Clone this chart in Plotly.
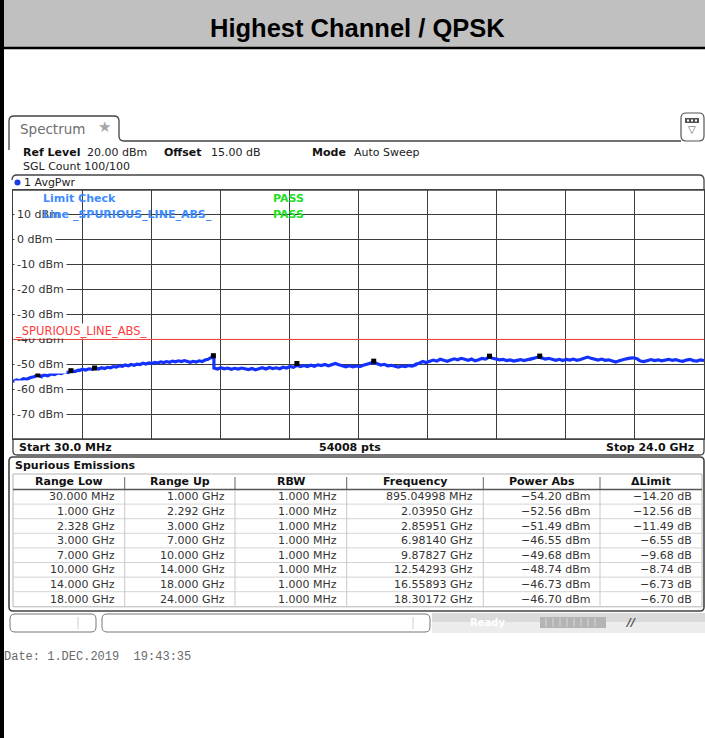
import numpy as np
import plotly.graph_objects as go

W, H = 705, 738

# ---------------- measurement data ----------------
range_low_ghz = [0.03, 1.0, 2.328, 3.0, 7.0, 10.0, 14.0, 18.0]
range_up_ghz = [1.0, 2.292, 3.0, 7.0, 10.0, 14.0, 18.0, 24.0]
rbw_mhz = [1.0, 1.0, 1.0, 1.0, 1.0, 1.0, 1.0, 1.0]
peak_freq_ghz = [0.89504998, 2.03950, 2.85951, 6.98140, 9.87827, 12.54293, 16.55893, 18.30172]
peak_power_dbm = [-54.20, -52.56, -51.49, -46.55, -49.68, -48.74, -46.73, -46.70]
limit_dbm = -40.0

ref_level_dbm = 20.0
offset_db = 15.0
start_ghz, stop_ghz = 0.03, 24.0
sweep_points = 54008
y_tick_values = [10, 0, -10, -20, -30, -40, -50, -60, -70]

# average-power trace, one list of levels per sweep range
levels_r1 = [-56.9, -56.3, -56.6, -55.8, -56.0, -55.3, -55.0, -54.4, -54.9]
levels_r2 = [-54.8, -54.3, -54.6, -53.9, -54.1, -53.5, -53.7, -53.1, -53.3, -52.6, -52.9, -52.4]
levels_r3 = [-52.5, -52.0, -52.3, -51.8, -52.0, -51.5, -51.8]
levels_r4 = [-51.9, -51.4, -51.7, -51.2, -51.4, -50.9, -51.1, -50.6, -50.8, -50.3,
             -50.6, -50.1, -50.4, -49.9, -50.1, -49.6, -49.9, -49.4, -49.7, -49.2,
             -49.5, -49.0, -49.3, -48.9, -49.2, -48.7, -49.0, -48.6, -48.9, -48.5,
             -48.9, -49.2, -48.8, -49.1, -48.6, -48.9, -48.3, -48.0, -47.3, -46.55]
levels_r5 = [-51.5, -51.9, -51.4, -51.8, -51.5, -52.0, -51.6, -51.9, -51.5, -51.8,
             -52.1, -51.7, -52.2, -51.8, -51.4, -51.9, -51.3, -51.7, -51.4, -51.8,
             -51.2, -51.5, -50.9, -51.2, -50.4, -50.9]
levels_r6 = [-50.9, -50.5, -50.9, -50.4, -50.8, -50.2, -50.5, -50.1, -50.6, -50.3,
             -49.7, -50.2, -50.7, -51.0, -50.6, -51.0, -50.7, -50.9, -50.4, -50.1,
             -49.6, -49.2, -49.8, -50.3, -50.0, -50.6, -50.4, -50.9, -51.1, -50.7,
             -50.9, -50.5, -50.7, -50.2]
levels_r7 = [-50.0, -49.6, -48.9, -49.3, -48.8, -48.3, -48.7, -48.0, -48.4, -48.8,
             -48.3, -47.8, -48.2, -47.6, -48.0, -48.4, -47.9, -48.6, -48.2, -47.6,
             -47.9, -47.1, -47.6, -47.9, -48.2, -48.0, -48.5, -48.2, -48.7, -48.4,
             -48.1, -48.5, -48.0, -47.8]
levels_r8 = [-47.9, -47.5, -47.1, -47.4, -47.9, -47.6, -48.1, -48.4, -48.0, -48.5,
             -48.0, -48.3, -47.9, -48.4, -48.1, -47.5, -47.1, -47.6, -48.1, -48.3,
             -47.9, -48.4, -48.2, -48.8, -49.1, -48.6, -48.1, -47.8, -47.5, -47.4,
             -47.8, -48.7, -48.9, -48.4, -48.1, -48.5, -48.2, -48.6, -48.3, -48.0,
             -48.4, -48.1, -48.6, -48.8, -48.3, -48.0, -48.5, -48.7, -48.2, -48.5]
segment_levels = [levels_r1, levels_r2, levels_r3, levels_r4,
                  levels_r5, levels_r6, levels_r7, levels_r8]

trace_f, trace_p = [], []
for lo, up, lv in zip(range_low_ghz, range_up_ghz, segment_levels):
    trace_f.extend(np.linspace(lo, up, len(lv)).tolist())
    trace_p.extend(lv)


# ---------------- helpers (pixel -> paper) ----------------
def fx(x):
    return x / W


def fy(y):
    return 1 - y / H


def fmt_freq(ghz, dec=3):
    if ghz < 1.0:
        return f"{ghz * 1000:.{dec}f} MHz"
    return f"{ghz:.{dec}f} GHz"


def rpath(x0, y0, x1, y1, r, tl=True, tr=True, br=True, bl=True, close=True):
    s = f"M {fx(x0)},{fy(y0 + (r if tl else 0))}"
    if tl:
        s += f" Q {fx(x0)},{fy(y0)} {fx(x0 + r)},{fy(y0)}"
    s += f" L {fx(x1 - (r if tr else 0))},{fy(y0)}"
    if tr:
        s += f" Q {fx(x1)},{fy(y0)} {fx(x1)},{fy(y0 + r)}"
    s += f" L {fx(x1)},{fy(y1 - (r if br else 0))}"
    if br:
        s += f" Q {fx(x1)},{fy(y1)} {fx(x1 - r)},{fy(y1)}"
    s += f" L {fx(x0 + (r if bl else 0))},{fy(y1)}"
    if bl:
        s += f" Q {fx(x0)},{fy(y1)} {fx(x0)},{fy(y1 - r)}"
    if close:
        s += " Z"
    return s


shapes = []
annots = []


def rect(x0, y0, x1, y1, fill=None, line=None, lw=1, layer="above"):
    shapes.append(dict(type="rect", xref="paper", yref="paper",
                       x0=fx(x0), x1=fx(x1), y0=fy(y1), y1=fy(y0),
                       fillcolor=fill or "rgba(0,0,0,0)",
                       line=dict(color=line or "rgba(0,0,0,0)", width=lw if line else 0),
                       layer=layer))


def hline(x0, x1, y, color, lw=1):
    shapes.append(dict(type="line", xref="paper", yref="paper",
                       x0=fx(x0), x1=fx(x1), y0=fy(y), y1=fy(y),
                       line=dict(color=color, width=lw)))


def vline(x, y0, y1, color, lw=1):
    shapes.append(dict(type="line", xref="paper", yref="paper",
                       x0=fx(x), x1=fx(x), y0=fy(y0), y1=fy(y1),
                       line=dict(color=color, width=lw)))


def path(d, line="#333", lw=1, fill=None):
    shapes.append(dict(type="path", xref="paper", yref="paper", path=d,
                       fillcolor=fill or "rgba(0,0,0,0)",
                       line=dict(color=line, width=lw)))


def text(x, y, s, size=11, color="#222", anchor="left", family="DejaVu Sans",
         bg=None, pad=1, yref="paper"):
    annots.append(dict(x=fx(x), y=(fy(y) if yref == "paper" else y), xref="paper", yref=yref,
                       text=s, showarrow=False, xanchor=anchor, yanchor="middle",
                       font=dict(family=family, size=size, color=color),
                       bgcolor=bg or "rgba(0,0,0,0)", borderpad=pad))


# ---------------- figure ----------------
fig = go.Figure()

fig.add_trace(go.Scatter(x=[start_ghz, stop_ghz], y=[limit_dbm, limit_dbm], mode="lines",
                         line=dict(color="#ff4a4a", width=1), hoverinfo="skip"))
fig.add_trace(go.Scatter(x=trace_f, y=trace_p, mode="lines",
                         line=dict(color="#1432ff", width=3.2), hoverinfo="skip"))
fig.add_trace(go.Scatter(x=peak_freq_ghz, y=peak_power_dbm, mode="markers",
                         marker=dict(symbol="square", size=5, color="#000"),
                         hoverinfo="skip"))

PX0, PX1, PY0, PY1 = 13, 704, 190, 439
span = stop_ghz - start_ghz

fig.update_layout(
    width=W, height=H, margin=dict(l=0, r=0, t=0, b=0),
    paper_bgcolor="white", plot_bgcolor="white", showlegend=False,
    xaxis=dict(domain=[fx(PX0), fx(PX1)], range=[start_ghz, stop_ghz],
               tickmode="linear", tick0=start_ghz, dtick=span / 10,
               showticklabels=False, ticks="", showgrid=True,
               gridcolor="#3c3c3c", gridwidth=1, zeroline=False,
               showline=True, mirror=True, linecolor="#3c3c3c", linewidth=1),
    yaxis=dict(domain=[fy(PY1), fy(PY0)], range=[-80, ref_level_dbm],
               tickmode="linear", tick0=0, dtick=10,
               showticklabels=False, ticks="", showgrid=True,
               gridcolor="#3c3c3c", gridwidth=1, zeroline=False,
               showline=True, mirror=True, linecolor="#3c3c3c", linewidth=1),
)

# title bar
rect(0, 0, W, 47, fill="#c0c0c0")
hline(0, W, 48, "#000", 2.5)
text(W / 2 + 5, 28, "<b>Highest Channel / QPSK</b>", size=25.5, color="#000",
     anchor="center", family="Liberation Sans")

# left border
rect(0, 0, 4, H, fill="#000")

# spectrum tab + header line
path(f"M {fx(9)},{fy(150)} L {fx(9)},{fy(121)} Q {fx(9)},{fy(116)} {fx(14)},{fy(116)} "
     f"L {fx(114)},{fy(116)} Q {fx(119)},{fy(116)} {fx(119)},{fy(121)} "
     f"L {fx(119)},{fy(136)} Q {fx(119)},{fy(141)} {fx(124)},{fy(141)} L {fx(681)},{fy(141)}",
     line="#444", lw=1.3)
text(18, 128.5, "Spectrum", size=13.5, color="#6e6e6e")
text(96, 127.5, "★", size=15, color="#a8a8a8")

# menu icon top right
path(rpath(681, 113, 704, 141, 5), line="#555", lw=1.2, fill="white")
rect(685, 118, 699, 123, fill="#505050")
rect(687, 119.5, 689, 121.5, fill="#fff")
rect(691, 119.5, 693, 121.5, fill="#fff")
rect(695, 119.5, 697, 121.5, fill="#fff")
text(692, 130, "▽", size=10, color="#505050", anchor="center")

# setting line
text(21, 152, "<b>Ref Level</b>", color="#111")
text(85, 152, f"{ref_level_dbm:.2f} dBm", color="#222")
text(162, 152, "<b>Offset</b>", color="#111")
text(209, 152, f"{offset_db:.2f} dB", color="#222")
text(310, 152, "<b>Mode</b>", color="#111")
text(352, 152, "Auto Sweep", color="#222")
text(21, 166.5, "SGL Count 100/100", color="#222")

# trace label box
path(rpath(12, 175, 704, 190, 5, bl=False, br=False, close=False), line="#444", lw=1.3)
shapes.append(dict(type="circle", xref="paper", yref="paper",
                   x0=fx(14.5), x1=fx(20.5), y0=fy(185.5), y1=fy(179.5),
                   fillcolor="#1a3ce0", line=dict(color="#1a3ce0", width=0)))
text(22, 182.5, "1 AvgPwr", color="#222")

# y tick labels inside the diagram
for v in y_tick_values:
    text(14, v, f"{v} dBm", color="#333", bg=None if v == limit_dbm else "white",
         pad=2, yref="y")

# limit check overlay
text(41, 199, "<b>Limit Check</b>", color="#3d8bff")
text(41, 215, "<b>Line _SPURIOUS_LINE_ABS_</b>", color="#3d8bff")
text(271, 199, "<b>PASS</b>", color="#25dd25")
text(271, 215, "<b>PASS</b>", color="#25dd25")
text(14, 330.5, "_SPURIOUS_LINE_ABS_", size=11.5, color="#ff3c3c", bg="white", pad=0)

# bottom axis bar
path(rpath(13, 439, 704, 455, 4, tl=False, tr=False), line="#444", lw=1.3)
text(17, 447, f"<b>Start {start_ghz * 1000:.1f} MHz</b>", color="#111")
text(350, 447, f"<b>{sweep_points} pts</b>", color="#111", anchor="center")
text(696, 447, f"<b>Stop {stop_ghz:.1f} GHz</b>", color="#111", anchor="right")

# spurious emissions panel
path(rpath(9, 457, 704, 611, 4), line="#444", lw=1.6)
text(13, 465, "<b>Spurious Emissions</b>", color="#111")

col_edges = [13, 124.7, 235, 346.7, 483.3, 600, 702]
headers = ["Range Low", "Range Up", "RBW", "Frequency", "Power Abs", "ΔLimit"]
row_h = 14.6
hdr_top, hdr_bot = 474, 489.5
tbl_bot = hdr_bot + row_h * len(range_low_ghz) + 0.5

rect(col_edges[0], hdr_top, col_edges[-1], tbl_bot, fill="white", line="#b4b4b4", lw=1)
for i in range(1, len(range_low_ghz)):
    hline(col_edges[0], col_edges[-1], hdr_bot + row_h * i, "#d4d4d4", 1)
for xe in col_edges[1:-1]:
    vline(xe, hdr_bot, tbl_bot, "#c8c8c8", 1)
    vline(xe, hdr_top + 3, hdr_bot, "#666", 1)
hline(col_edges[0], col_edges[-1], hdr_bot, "#555", 1.5)

for j, hname in enumerate(headers):
    text((col_edges[j] + col_edges[j + 1]) / 2, 481.5, f"<b>{hname}</b>",
         color="#111", anchor="center")

for i in range(len(range_low_ghz)):
    yc = hdr_bot + row_h * (i + 0.5)
    delta = peak_power_dbm[i] - limit_dbm
    cells = [fmt_freq(range_low_ghz[i]), fmt_freq(range_up_ghz[i]),
             f"{rbw_mhz[i]:.3f} MHz", fmt_freq(peak_freq_ghz[i], 5),
             f"{peak_power_dbm[i]:.2f} dBm", f"{delta:.2f} dB"]
    for j, c in enumerate(cells):
        text(col_edges[j + 1] - 8, yc, c.replace("-", "\u2212"), color="#333", anchor="right")

# status bar
rect(432, 613, 705, 622, fill="#dadada")
rect(432, 622, 705, 633, fill="#ececec")
path(rpath(10, 614, 96, 632, 5), line="#777", lw=1, fill="white")
vline(78, 617, 629, "#cfcfcf", 1)
path(rpath(102, 614, 430, 632, 5), line="#777", lw=1, fill="white")
vline(413, 617, 629, "#cfcfcf", 1)
text(487, 622.5, "<b>Ready</b>", size=10, color="#ffffff", anchor="center")
rect(540, 617, 606, 628, fill="#b4b4b4")
for k in range(8):
    vline(546 + 7 * k, 618, 627, "#d6d6d6", 1)
text(630, 622, "<b><i>//</i></b>", size=11, color="#4a4a4a", anchor="center")

# timestamp
text(2, 657, "Date: 1.DEC.2019  19:43:35".replace(" ", "\u00a0"), size=12,
     color="#6a6a6a", family="Liberation Mono")

fig.update_layout(shapes=shapes, annotations=annots)
fig.write_html("out.html")
